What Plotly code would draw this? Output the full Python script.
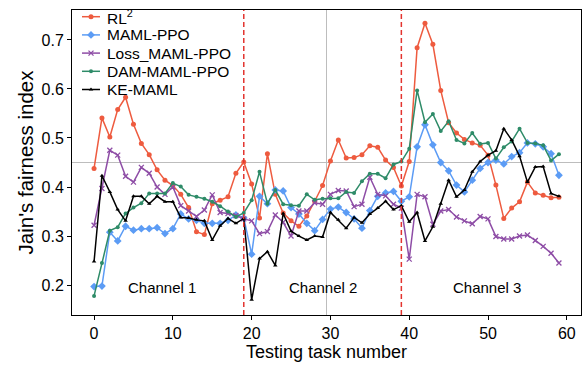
import plotly.graph_objects as go

# Testing task index (60 tasks across three channels)
tasks = list(range(60))

rl2 = [0.438, 0.541, 0.502, 0.558, 0.583, 0.528, 0.489, 0.466, 0.435, 0.414,
       0.403, 0.385, 0.358, 0.309, 0.303, 0.366, 0.373, 0.380, 0.428, 0.451,
       0.406, 0.337, 0.468, 0.385, 0.347, 0.331, 0.320, 0.341, 0.371, 0.403,
       0.453, 0.496, 0.459, 0.460, 0.466, 0.484, 0.481, 0.455, 0.440, 0.402,
       0.452, 0.684, 0.734, 0.691, 0.597, 0.531, 0.510, 0.497, 0.490, 0.485,
       0.465, 0.404, 0.336, 0.357, 0.370, 0.410, 0.388, 0.383, 0.378, 0.379]

maml_ppo = [0.197, 0.198, 0.308, 0.290, 0.320, 0.312, 0.315, 0.315, 0.317, 0.305,
            0.315, 0.345, 0.335, 0.332, 0.326, 0.326, 0.326, 0.332, 0.343, 0.337,
            0.263, 0.381, 0.366, 0.394, 0.392, 0.358, 0.345, 0.326, 0.311, 0.334,
            0.355, 0.359, 0.348, 0.335, 0.316, 0.352, 0.381, 0.388, 0.391, 0.371,
            0.380, 0.482, 0.527, 0.486, 0.450, 0.433, 0.404, 0.390, 0.414, 0.438,
            0.450, 0.455, 0.447, 0.462, 0.470, 0.490, 0.488, 0.482, 0.468, 0.424]

loss_maml_ppo = [0.322, 0.397, 0.475, 0.465, 0.422, 0.410, 0.440, 0.428, 0.400, 0.385,
                 0.400, 0.362, 0.351, 0.340, 0.353, 0.384, 0.348, 0.346, 0.342, 0.335,
                 0.331, 0.305, 0.309, 0.343, 0.328, 0.300, 0.351, 0.351, 0.368, 0.365,
                 0.385, 0.393, 0.392, 0.360, 0.365, 0.420, 0.385, 0.382, 0.365, 0.357,
                 0.253, 0.385, 0.380, 0.324, 0.351, 0.354, 0.339, 0.331, 0.325, 0.340,
                 0.335, 0.299, 0.294, 0.294, 0.300, 0.302, 0.291, 0.279, 0.265, 0.245]

dam_maml_ppo = [0.178, 0.245, 0.311, 0.318, 0.346, 0.358, 0.367, 0.387, 0.387, 0.387,
                0.408, 0.401, 0.384, 0.380, 0.376, 0.370, 0.361, 0.350, 0.339, 0.347,
                0.373, 0.431, 0.366, 0.394, 0.365, 0.363, 0.362, 0.385, 0.374, 0.376,
                0.377, 0.377, 0.390, 0.388, 0.412, 0.427, 0.427, 0.418, 0.446, 0.452,
                0.478, 0.597, 0.532, 0.549, 0.514, 0.534, 0.496, 0.489, 0.510, 0.488,
                0.490, 0.458, 0.481, 0.493, 0.519, 0.490, 0.489, 0.485, 0.454, 0.467]

ke_maml = [0.248, 0.423, 0.390, 0.354, 0.331, 0.381, 0.381, 0.366, 0.381, 0.370,
           0.370, 0.338, 0.337, 0.333, 0.331, 0.292, 0.321, 0.336, 0.326, 0.336,
           0.170, 0.254, 0.268, 0.240, 0.346, 0.310, 0.300, 0.292, 0.300, 0.298,
           0.348, 0.333, 0.316, 0.338, 0.327, 0.345, 0.357, 0.371, 0.354, 0.362,
           0.329, 0.348, 0.290, 0.319, 0.366, 0.414, 0.380, 0.394, 0.431, 0.452,
           0.465, 0.474, 0.519, 0.496, 0.463, 0.410, 0.441, 0.442, 0.387, 0.381]

channel_labels = ["Channel 1", "Channel 2", "Channel 3"]
channel_centers = [8.6, 29.0, 49.9]
channel_label_y = 0.196

channel_boundaries = [19, 39]
midline_x = 29.5
reference_y = 0.45

FONT = "Liberation Sans, Arial, sans-serif"
W, H = 587, 365
ML, MR, MT, MB = 72, 6, 10, 50

series = [
    ("RL<sup>2</sup>", rl2, "#EE5B3F", dict(symbol="circle", size=5)),
    ("MAML-PPO", maml_ppo, "#5C9CF5", dict(symbol="diamond", size=6)),
    ("Loss_MAML-PPO", loss_maml_ppo, "#8E4DA6",
     dict(symbol="x-thin", size=5, line=dict(width=1.3, color="#8E4DA6"))),
    ("DAM-MAML-PPO", dam_maml_ppo, "#2E8B68", dict(symbol="circle", size=4)),
    ("KE-MAML", ke_maml, "#000000", dict(symbol="triangle-up", size=4)),
]

fig = go.Figure()
for name, values, color, marker in series:
    marker = dict(marker)
    marker["color"] = color
    fig.add_trace(go.Scatter(
        x=tasks, y=values, name=name, mode="lines+markers",
        line=dict(color=color, width=1.5), marker=marker, showlegend=False,
    ))

# Compact legend drawn on a pixel-scaled overlay axis (handle line + one marker)
LEG_X0, LEG_X1, LEG_TEXT_X = 82, 100, 105
LEG_ROW0, LEG_STEP = 16.7, 18.2
for i, (name, values, color, marker) in enumerate(series):
    row = LEG_ROW0 + i * LEG_STEP
    fig.add_trace(go.Scatter(
        x=[LEG_X0, LEG_X1], y=[row, row], mode="lines",
        line=dict(color=color, width=1.5), xaxis="x2", yaxis="y2",
        showlegend=False, hoverinfo="skip",
    ))
    m = dict(marker)
    m["color"] = color
    fig.add_trace(go.Scatter(
        x=[(LEG_X0 + LEG_X1) / 2], y=[row], mode="markers", marker=m,
        xaxis="x2", yaxis="y2", showlegend=False, hoverinfo="skip",
    ))
    fig.add_annotation(x=LEG_TEXT_X, y=row, xref="x2", yref="y2", text=name,
                       showarrow=False, xanchor="left", yanchor="middle",
                       font=dict(family=FONT, size=15.5, color="black"))

# Reference lines
fig.add_hline(y=reference_y, line=dict(color="#BDBDBD", width=1), layer="below")
fig.add_vline(x=midline_x, line=dict(color="#BDBDBD", width=1), layer="below")
for xb in channel_boundaries:
    fig.add_vline(x=xb, line=dict(color="#E3342F", width=1.5, dash="5px,3px"))

for label, cx in zip(channel_labels, channel_centers):
    fig.add_annotation(x=cx, y=channel_label_y, text=label, showarrow=False,
                       font=dict(family=FONT, size=15, color="black"),
                       xanchor="center", yanchor="middle")

axis_common = dict(
    showline=True, linecolor="black", linewidth=1, mirror=True,
    showgrid=False, zeroline=False, ticks="outside", ticklen=4,
    tickcolor="black", tickfont=dict(family=FONT, size=16, color="black"),
)

fig.update_layout(
    width=W, height=H,
    margin=dict(l=ML, r=MR, t=MT, b=MB),
    paper_bgcolor="white", plot_bgcolor="white",
    font=dict(family=FONT, color="black"),
    showlegend=False,
    xaxis=dict(range=[-2.8, 61.8], tickvals=[0, 10, 20, 30, 40, 50, 60],
               title=dict(text="Testing task number",
                          font=dict(family=FONT, size=18), standoff=4),
               **axis_common),
    yaxis=dict(range=[0.139, 0.761], tickvals=[0.2, 0.3, 0.4, 0.5, 0.6, 0.7],
               tickformat=".1f",
               title=dict(text="Jain's fairness index",
                          font=dict(family=FONT, size=20.5), standoff=2),
               **axis_common),
    xaxis2=dict(overlaying="x", range=[ML, W - MR], visible=False,
                fixedrange=True),
    yaxis2=dict(overlaying="y", range=[H - MB, MT], visible=False,
                fixedrange=True),
)

fig.write_html("out.html")
